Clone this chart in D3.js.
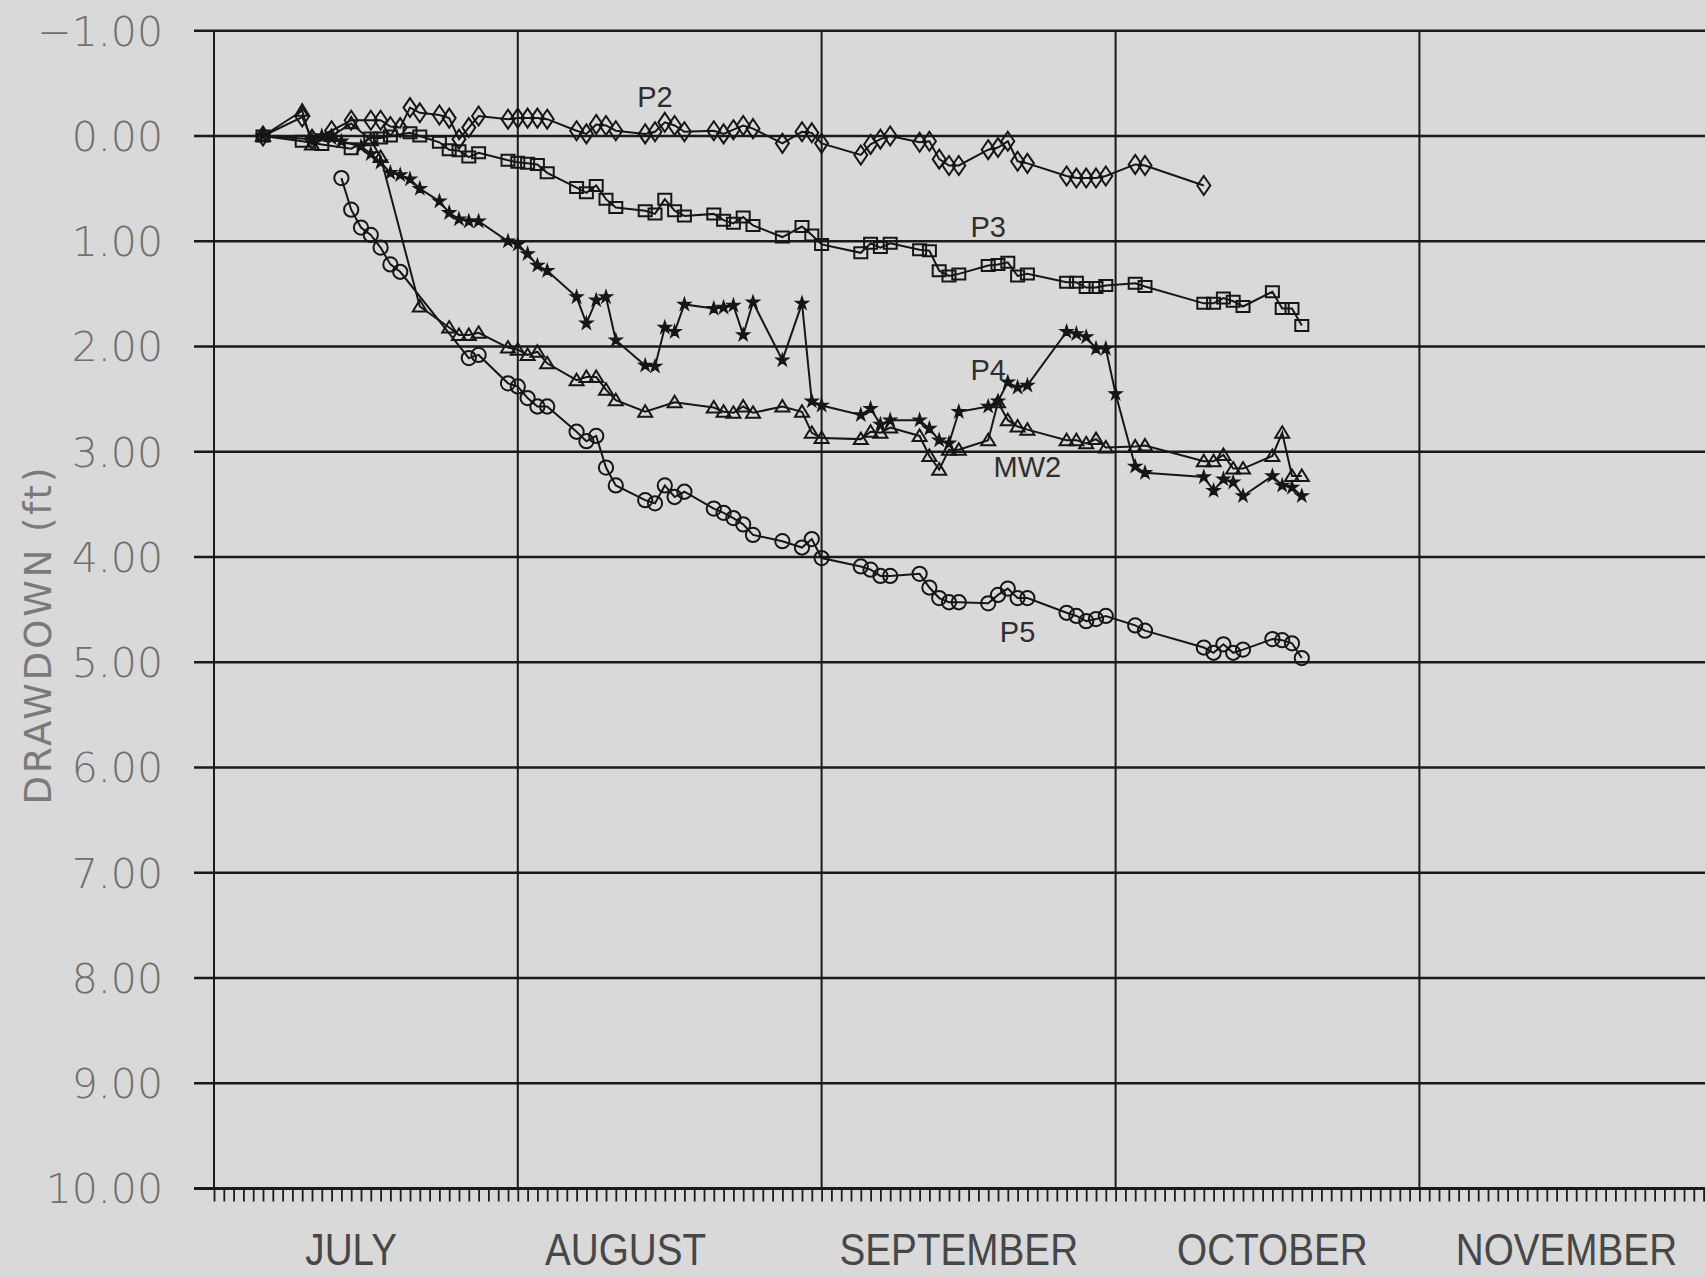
<!DOCTYPE html>
<html>
<head>
    <meta charset="utf-8">
    <title>Drawdown</title>
    <script src="https://cdn.jsdelivr.net/npm/d3@7"></script>
    <style>
        html,
        body {
            margin: 0;
            padding: 0;
            background-color: #d9d9d9;
        }

        svg {
            display: block;
            background-color: #d9d9d9;
        }

        .grid line {
            stroke: #1a1a1a;
        }

        .ylab {
            font-family: "DejaVu Sans ExtraLight", "DejaVu Sans", sans-serif;
            font-weight: 200;
            font-size: 41px;
            fill: #707070;
            text-anchor: end;
        }

        .month {
            font-family: "Liberation Sans", Arial, sans-serif;
            font-size: 45px;
            fill: #474747;
            text-anchor: middle;
        }

        .ytitle {
            font-family: "DejaVu Sans", sans-serif;
            font-size: 37px;
            fill: #7a7a7a;
            text-anchor: middle;
        }

        .series path.line {
            fill: none;
            stroke: #161616;
            stroke-width: 2;
        }

        .series .mark {
            fill: none;
            stroke: #161616;
            stroke-width: 2;
        }

        .series .mark.star {
            fill: #161616;
            stroke-width: 1.4;
        }

        .slabel {
            font-family: "Liberation Sans", Arial, sans-serif;
            font-size: 29px;
            fill: #2e2e2e;
            text-anchor: middle;
        }
    </style>
</head>
<body>
    <svg></svg>

    <script>
        // readings: [month-day, drawdown ft]
        var p2 = [
            ["07-06", 0.00], ["07-10", -0.18], ["07-11", 0.03], ["07-13", -0.05], ["07-15", -0.15],
            ["07-17", -0.15], ["07-18", -0.15], ["07-19", -0.09], ["07-20", -0.08], ["07-21", -0.27],
            ["07-22", -0.22], ["07-24", -0.20], ["07-25", -0.17], ["07-26", 0.03], ["07-27", -0.08],
            ["07-28", -0.19], ["07-31", -0.16], ["08-01", -0.17], ["08-02", -0.17], ["08-03", -0.17],
            ["08-04", -0.16], ["08-07", -0.05], ["08-08", -0.02], ["08-09", -0.11], ["08-10", -0.10],
            ["08-11", -0.05], ["08-14", -0.02], ["08-15", -0.04], ["08-16", -0.13], ["08-17", -0.10],
            ["08-18", -0.04], ["08-21", -0.05], ["08-22", -0.02], ["08-23", -0.06], ["08-24", -0.10],
            ["08-25", -0.07], ["08-28", 0.07], ["08-30", -0.04], ["08-31", -0.03], ["09-01", 0.07],
            ["09-05", 0.18], ["09-06", 0.08], ["09-07", 0.03], ["09-08", 0.00], ["09-11", 0.06],
            ["09-12", 0.05], ["09-13", 0.22], ["09-14", 0.28], ["09-15", 0.28], ["09-18", 0.13],
            ["09-19", 0.11], ["09-20", 0.05], ["09-21", 0.24], ["09-22", 0.26], ["09-26", 0.38],
            ["09-27", 0.40], ["09-28", 0.40], ["09-29", 0.40], ["09-30", 0.38], ["10-03", 0.27],
            ["10-04", 0.28], ["10-10", 0.47]
        ];

        var p3 = [
            ["07-06", 0.00], ["07-10", 0.05], ["07-12", 0.08], ["07-15", 0.12], ["07-17", 0.02],
            ["07-18", 0.02], ["07-19", 0.00], ["07-21", -0.03], ["07-22", 0.00], ["07-24", 0.06],
            ["07-25", 0.13], ["07-26", 0.14], ["07-27", 0.20], ["07-28", 0.16], ["07-31", 0.23],
            ["08-01", 0.25], ["08-02", 0.26], ["08-03", 0.27], ["08-04", 0.35], ["08-07", 0.49],
            ["08-08", 0.54], ["08-09", 0.47], ["08-10", 0.60], ["08-11", 0.68], ["08-14", 0.71],
            ["08-15", 0.74], ["08-16", 0.60], ["08-17", 0.71], ["08-18", 0.76], ["08-21", 0.74],
            ["08-22", 0.80], ["08-23", 0.83], ["08-24", 0.77], ["08-25", 0.85], ["08-28", 0.96],
            ["08-30", 0.86], ["08-31", 0.94], ["09-01", 1.03], ["09-05", 1.11], ["09-06", 1.02],
            ["09-07", 1.06], ["09-08", 1.02], ["09-11", 1.08], ["09-12", 1.09], ["09-13", 1.28],
            ["09-14", 1.33], ["09-15", 1.31], ["09-18", 1.23], ["09-19", 1.22], ["09-20", 1.20],
            ["09-21", 1.33], ["09-22", 1.31], ["09-26", 1.39], ["09-27", 1.39], ["09-28", 1.44],
            ["09-29", 1.44], ["09-30", 1.42], ["10-03", 1.40], ["10-04", 1.43], ["10-10", 1.59],
            ["10-11", 1.59], ["10-12", 1.54], ["10-13", 1.57], ["10-14", 1.62], ["10-17", 1.48],
            ["10-18", 1.64], ["10-19", 1.64], ["10-20", 1.80]
        ];

        var p4 = [
            ["07-06", 0.00], ["07-11", 0.03], ["07-12", 0.00], ["07-13", 0.02], ["07-14", 0.05],
            ["07-16", 0.10], ["07-17", 0.17], ["07-18", 0.25], ["07-19", 0.35], ["07-20", 0.37],
            ["07-21", 0.41], ["07-22", 0.50], ["07-24", 0.62], ["07-25", 0.73], ["07-26", 0.79],
            ["07-27", 0.81], ["07-28", 0.81], ["07-31", 1.00], ["08-01", 1.03], ["08-02", 1.12],
            ["08-03", 1.23], ["08-04", 1.28], ["08-07", 1.53], ["08-08", 1.78], ["08-09", 1.56],
            ["08-10", 1.53], ["08-11", 1.94], ["08-14", 2.18], ["08-15", 2.19], ["08-16", 1.82],
            ["08-17", 1.86], ["08-18", 1.60], ["08-21", 1.64], ["08-22", 1.63], ["08-23", 1.61],
            ["08-24", 1.89], ["08-25", 1.58], ["08-28", 2.13], ["08-30", 1.59], ["08-31", 2.52],
            ["09-01", 2.56], ["09-05", 2.65], ["09-06", 2.59], ["09-07", 2.74], ["09-08", 2.70],
            ["09-11", 2.70], ["09-12", 2.78], ["09-13", 2.89], ["09-14", 2.92], ["09-15", 2.62],
            ["09-18", 2.57], ["09-19", 2.52], ["09-20", 2.34], ["09-21", 2.39], ["09-22", 2.37],
            ["09-26", 1.86], ["09-27", 1.88], ["09-28", 1.91], ["09-29", 2.02], ["09-30", 2.02],
            ["10-01", 2.45], ["10-03", 3.14], ["10-04", 3.20], ["10-10", 3.24], ["10-11", 3.37],
            ["10-12", 3.26], ["10-13", 3.29], ["10-14", 3.42], ["10-17", 3.23], ["10-18", 3.32],
            ["10-19", 3.34], ["10-20", 3.42]
        ];

        var mw2 = [
            ["07-06", 0.00], ["07-10", -0.24], ["07-11", 0.08], ["07-13", 0.00], ["07-15", -0.12],
            ["07-17", 0.04], ["07-18", 0.20], ["07-22", 1.62], ["07-25", 1.82], ["07-26", 1.89],
            ["07-27", 1.89], ["07-28", 1.87], ["07-31", 2.01], ["08-01", 2.03], ["08-02", 2.08],
            ["08-03", 2.05], ["08-04", 2.16], ["08-07", 2.32], ["08-08", 2.29], ["08-09", 2.29],
            ["08-10", 2.41], ["08-11", 2.51], ["08-14", 2.62], ["08-17", 2.53], ["08-21", 2.58],
            ["08-22", 2.62], ["08-23", 2.63], ["08-24", 2.57], ["08-25", 2.63], ["08-28", 2.57],
            ["08-30", 2.62], ["08-31", 2.82], ["09-01", 2.87], ["09-05", 2.88], ["09-06", 2.81],
            ["09-07", 2.82], ["09-08", 2.77], ["09-11", 2.85], ["09-12", 3.04], ["09-13", 3.17],
            ["09-14", 2.98], ["09-15", 2.98], ["09-18", 2.89], ["09-19", 2.53], ["09-20", 2.70],
            ["09-21", 2.76], ["09-22", 2.79], ["09-26", 2.89], ["09-27", 2.89], ["09-28", 2.92],
            ["09-29", 2.88], ["09-30", 2.96], ["10-03", 2.95], ["10-04", 2.94], ["10-10", 3.09],
            ["10-11", 3.09], ["10-12", 3.03], ["10-13", 3.16], ["10-14", 3.16], ["10-17", 3.04],
            ["10-18", 2.82], ["10-19", 3.23], ["10-20", 3.23]
        ];

        var p5 = [
            ["07-14", 0.40], ["07-15", 0.70], ["07-16", 0.87], ["07-17", 0.94], ["07-18", 1.06],
            ["07-19", 1.22], ["07-20", 1.29], ["07-27", 2.11], ["07-28", 2.08], ["07-31", 2.35],
            ["08-01", 2.38], ["08-02", 2.49], ["08-03", 2.57], ["08-04", 2.57], ["08-07", 2.81],
            ["08-08", 2.90], ["08-09", 2.85], ["08-10", 3.15], ["08-11", 3.32], ["08-14", 3.46],
            ["08-15", 3.49], ["08-16", 3.32], ["08-17", 3.43], ["08-18", 3.38], ["08-21", 3.54],
            ["08-22", 3.58], ["08-23", 3.63], ["08-24", 3.69], ["08-25", 3.79], ["08-28", 3.85],
            ["08-30", 3.91], ["08-31", 3.83], ["09-01", 4.01], ["09-05", 4.09], ["09-06", 4.12],
            ["09-07", 4.18], ["09-08", 4.18], ["09-11", 4.16], ["09-12", 4.29], ["09-13", 4.39],
            ["09-14", 4.43], ["09-15", 4.43], ["09-18", 4.44], ["09-19", 4.36], ["09-20", 4.30],
            ["09-21", 4.39], ["09-22", 4.39], ["09-26", 4.53], ["09-27", 4.56], ["09-28", 4.61],
            ["09-29", 4.59], ["09-30", 4.56], ["10-03", 4.65], ["10-04", 4.70], ["10-10", 4.86],
            ["10-11", 4.91], ["10-12", 4.83], ["10-13", 4.91], ["10-14", 4.88], ["10-17", 4.78],
            ["10-18", 4.79], ["10-19", 4.82], ["10-20", 4.96]
        ];

        var yTicks = [-1, 0, 1, 2, 3, 4, 5, 6, 7, 8, 9, 10];
        var monthStarts = ["07-01", "08-01", "09-01", "10-01", "11-01"];
        var monthNames = ["JULY", "AUGUST", "SEPTEMBER", "OCTOBER", "NOVEMBER"];
        var monthLabelAt = ["07-15", "08-12", "09-15", "10-17", "11-16"];

        // series name, label anchor date, label anchor value
        var seriesLabels = [
            ["P2", "08-15", -0.28],
            ["P3", "09-18", 0.96],
            ["P4", "09-18", 2.32],
            ["MW2", "09-22", 3.24],
            ["P5", "09-21", 4.81]
        ];

        (function () {
            var w = 1705,
                h = 1277;

            var parse = d3.timeParse('%Y-%m-%d');
            function day(s) { return parse('1990-' + s); }

            var svg = d3.select('svg')
                .attr('width', w)
                .attr('height', h);

            var x = d3.scaleTime()
                .domain([day('07-01'), day('12-01')])
                .range([214, 214 + 153 * 9.8]);

            var y = d3.scaleLinear()
                .domain([-1, 10])
                .range([30.75, 1188.5]);

            var fmt = d3.format('.2f');

            // horizontal grid lines, with the little stub left of the axis
            var grid = svg.append('g').attr('class', 'grid');

            grid.selectAll('line.h')
                .data(yTicks)
                .enter().append('line')
                .attr('class', 'h')
                .attr('x1', 194)
                .attr('x2', w)
                .attr('y1', function (d) { return y(d); })
                .attr('y2', function (d) { return y(d); })
                .style('stroke-width', function (d) { return d === 10 ? 3 : 2.3; });

            // vertical month lines
            grid.selectAll('line.v')
                .data(monthStarts)
                .enter().append('line')
                .attr('class', 'v')
                .attr('x1', function (d) { return x(day(d)); })
                .attr('x2', function (d) { return x(day(d)); })
                .attr('y1', y(-1))
                .attr('y2', y(10))
                .style('stroke-width', 2);

            // daily ticks under the bottom line
            var xAxis = d3.axisBottom(x)
                .ticks(d3.timeDay.every(1))
                .tickSize(13)
                .tickFormat('');

            var ax = svg.append('g')
                .attr('transform', 'translate(0,' + y(10) + ')')
                .call(xAxis);
            ax.select('.domain').remove();
            ax.selectAll('line')
                .style('stroke', '#1a1a1a')
                .style('stroke-width', 1.8);

            // month names along the bottom
            svg.selectAll('text.month')
                .data(monthNames)
                .enter().append('text')
                .attr('class', 'month')
                .attr('transform', function (d, i) {
                    return 'translate(' + x(day(monthLabelAt[i])) + ',1265)scale(0.86,1)';
                })
                .text(function (d) { return d; });

            // y tick labels
            svg.selectAll('text.ylab')
                .data(yTicks)
                .enter().append('text')
                .attr('class', 'ylab')
                .attr('x', 163)
                .attr('y', function (d) { return y(d); })
                .attr('dy', '0.36em')
                .text(function (d) { return fmt(d); });

            // axis title
            svg.append('text')
                .attr('class', 'ytitle')
                .attr('transform', 'translate(38,636)rotate(-90)')
                .attr('dy', '0.36em')
                .attr('textLength', 337)
                .attr('lengthAdjust', 'spacing')
                .text('DRAWDOWN  (ft)');

            // marker shapes
            var shapes = {
                diamond: 'M0,-9.5L6.5,0L0,9.5L-6.5,0Z',
                square: 'M-6.5,-5.5H6.5V5.5H-6.5Z',
                triangle: 'M0,-6.5L7,5H-7Z',
                circle: d3.symbol(d3.symbolCircle, 160)(),
                star: d3.symbol(d3.symbolStar, 48)()
            };

            var series = [
                { name: 'P2', data: p2, shape: 'diamond' },
                { name: 'P3', data: p3, shape: 'square' },
                { name: 'P4', data: p4, shape: 'star' },
                { name: 'MW2', data: mw2, shape: 'triangle' },
                { name: 'P5', data: p5, shape: 'circle' }
            ];

            var line = d3.line()
                .x(function (d) { return x(day(d[0])); })
                .y(function (d) { return y(d[1]); });

            var sg = svg.selectAll('g.series')
                .data(series)
                .enter().append('g')
                .attr('class', 'series');

            sg.append('path')
                .attr('class', 'line')
                .attr('d', function (s) { return line(s.data); });

            sg.each(function (s) {
                d3.select(this).selectAll('path.mark')
                    .data(s.data)
                    .enter().append('path')
                    .attr('class', 'mark ' + s.shape)
                    .attr('d', shapes[s.shape])
                    .attr('transform', function (d) {
                        return 'translate(' + x(day(d[0])) + ',' + y(d[1]) + ')';
                    });
            });

            // series names
            svg.selectAll('text.slabel')
                .data(seriesLabels)
                .enter().append('text')
                .attr('class', 'slabel')
                .attr('x', function (d) { return x(day(d[1])); })
                .attr('y', function (d) { return y(d[2]); })
                .text(function (d) { return d[0]; });
        })();
    </script>
</body>
</html>
